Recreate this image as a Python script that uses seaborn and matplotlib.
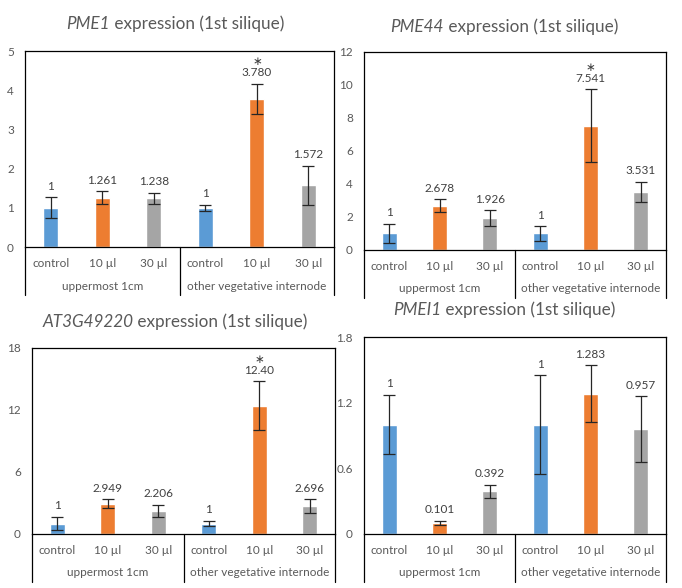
import matplotlib
matplotlib.use("Agg")
import matplotlib.pyplot as plt
import matplotlib.transforms as mtransforms
import seaborn as sns
import pandas as pd

# ---------------- data ----------------
groups = ["uppermost 1cm", "other vegetative internode"]
treatments = ["control", "10 µl", "30 µl"]

pme1_vals = [1, 1.261, 1.238, 1, 3.780, 1.572]
pme1_err = [0.27, 0.16, 0.15, 0.08, 0.38, 0.50]
pme1_labels = ["1", "1.261", "1.238", "1", "3.780", "1.572"]

pme44_vals = [1, 2.678, 1.926, 1, 7.541, 3.531]
pme44_err = [0.60, 0.40, 0.48, 0.45, 2.20, 0.60]
pme44_labels = ["1", "2.678", "1.926", "1", "7.541", "3.531"]

at3_vals = [1, 2.949, 2.206, 1, 12.40, 2.696]
at3_err = [0.65, 0.43, 0.60, 0.27, 2.38, 0.68]
at3_labels = ["1", "2.949", "2.206", "1", "12.40", "2.696"]

pmei1_vals = [1, 0.101, 0.392, 1, 1.283, 0.957]
pmei1_err = [0.27, 0.02, 0.06, 0.45, 0.26, 0.30]
pmei1_labels = ["1", "0.101", "0.392", "1", "1.283", "0.957"]

genes = ["PME1", "PME44", "AT3G49220", "PMEI1"]
title_suffix = " expression (1st silique)"
yticks_list = [[0, 1, 2, 3, 4, 5], [0, 2, 4, 6, 8, 10, 12], [0, 6, 12, 18], [0, 0.6, 1.2, 1.8]]
ytick_labels_list = [["0", "1", "2", "3", "4", "5"], ["0", "2", "4", "6", "8", "10", "12"],
                     ["0", "6", "12", "18"], ["0", "0.6", "1.2", "1.8"]]
stars = [[4], [4], [4], []]

colors = ["#5B9BD5", "#ED7D31", "#A5A5A5"]
TXT = "#595959"

sns.set_theme(style="white")
plt.rcParams["font.family"] = ["Lato", "DejaVu Sans"]

W, H = 682, 588
fig = plt.figure(figsize=(W / 100, H / 100), dpi=100)
renderer = fig.canvas.get_renderer()

# axes boxes in pixels: left, top, right, bottom
boxes = [(25, 51, 334, 247), (364, 52, 666, 250), (32, 348, 335, 534), (364, 337, 666, 534)]
title_pos = [(175, 24), (504, 27), (175, 322), (504, 310)]

datasets = [(pme1_vals, pme1_err, pme1_labels), (pme44_vals, pme44_err, pme44_labels),
            (at3_vals, at3_err, at3_labels), (pmei1_vals, pmei1_err, pmei1_labels)]

keys = [f"{g}|{t}" for g in groups for t in treatments]
FS = 8.5

for i, (vals, errs, labels) in enumerate(datasets):
    l, t, r, b = boxes[i]
    ax = fig.add_axes([l / W, 1 - b / H, (r - l) / W, (b - t) / H])
    df = pd.DataFrame({"key": keys, "value": vals,
                       "treatment": [t_ for g in groups for t_ in treatments]})
    sns.barplot(data=df, x="key", y="value", hue="treatment", order=keys,
                hue_order=treatments, palette=colors, dodge=False, width=0.3,
                legend=False, ax=ax, saturation=1, errorbar=None)
    xs = list(range(len(keys)))
    ax.errorbar(xs, vals, yerr=errs, fmt="none", ecolor="#262626", elinewidth=0.9,
                capsize=4.5, capthick=0.9)
    yt = yticks_list[i]
    ax.set_ylim(0, yt[-1])
    ax.set_xlim(-0.5, 5.5)
    ax.set_yticks(yt)
    ax.set_yticklabels(ytick_labels_list[i], fontsize=FS, color=TXT)
    ax.set_xticks(xs)
    ax.set_xticklabels([t_ for g in groups for t_ in treatments], fontsize=FS, color=TXT)
    ax.tick_params(axis="both", length=0)
    ax.tick_params(axis="y", pad=8)
    ax.tick_params(axis="x", pad=8)
    ax.set_xlabel("")
    ax.set_ylabel("")
    for s in ax.spines.values():
        s.set_color("black")
        s.set_linewidth(0.9)

    for j, (v, e, lab) in enumerate(zip(vals, errs, labels)):
        txt = (r"$\ast$" + "\n" + lab) if j in stars[i] else lab
        ax.annotate(txt, (j, v + e), xytext=(0, 4), textcoords="offset points",
                    ha="center", va="bottom", fontsize=FS, color="#404040",
                    linespacing=1.0, multialignment="center")

    # category axis decorations
    trans = mtransforms.blended_transform_factory(ax.transData, ax.transAxes)
    depth = 48 / (b - t)
    for xv in [-0.5, 2.5, 5.5]:
        ax.plot([xv, xv], [0, -depth], transform=trans, color="black", lw=0.9,
                clip_on=False)
    for gi, g in enumerate(groups):
        ax.text(1 + 3 * gi, -39 / (b - t), g, transform=trans, ha="center",
                va="center", fontsize=FS, color=TXT)

    # title: italic gene name + regular suffix, centered as a whole
    tx, ty = title_pos[i]
    t1 = fig.text(0, 1 - ty / H, genes[i], ha="left", va="center", fontsize=12.3,
                  color=TXT, style="italic")
    t2 = fig.text(0, 1 - ty / H, title_suffix, ha="left", va="center", fontsize=12.3,
                  color=TXT)
    w1 = t1.get_window_extent(renderer).width
    w2 = t2.get_window_extent(renderer).width
    x0 = tx - (w1 + w2) / 2
    t1.set_x(x0 / W)
    t2.set_x((x0 + w1) / W)

fig.savefig("out.png", dpi=100)
